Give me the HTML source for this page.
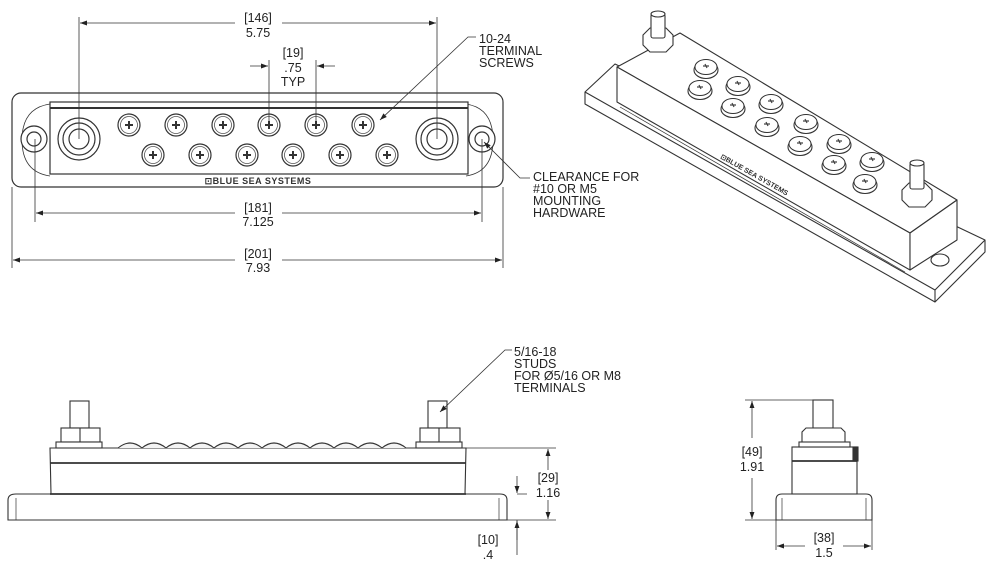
<!DOCTYPE html>
<html><head><meta charset="utf-8"><style>
html,body{margin:0;padding:0;background:#fff;}
svg{display:block;}
text{font-family:"Liberation Sans",Arial,sans-serif;font-size:12.5px;fill:#222;}
.c{text-anchor:middle;}
</style></head><body>
<svg width="1000" height="570" viewBox="0 0 1000 570" xmlns="http://www.w3.org/2000/svg">
<defs>
<marker id="a" viewBox="0 0 10 10" refX="10" refY="5" markerWidth="9" markerHeight="7" orient="auto-start-reverse" markerUnits="userSpaceOnUse"><path d="M0,1.5 L10,5 L0,8.5 Z" fill="#222"/></marker>
<g id="scr"><circle r="11" fill="#fff" stroke="#333" stroke-width="1.2"/><circle r="8.5" fill="none" stroke="#555" stroke-width="0.8"/><path d="M-4,0H4M0,-4V4" stroke="#333" stroke-width="2"/></g>
<g id="iscr"><ellipse cx="0" cy="3" rx="12" ry="8.5" fill="#fff" stroke="#333" stroke-width="1.1"/><ellipse rx="11" ry="7.5" fill="#fff" stroke="#333" stroke-width="1"/><path d="M-3,-1h6M-1,-3l2,4" stroke="#444" stroke-width="1.2"/></g>
</defs>
<g stroke="#333" fill="none" stroke-width="1.2">
<!-- TOP VIEW -->
<rect x="12" y="93" width="491" height="94" rx="9" fill="#fff"/>
<path d="M22,140 Q22,108 50,104 M22,140 Q22,172 50,176 M493,140 Q493,108 466,104 M493,140 Q493,172 466,176" stroke-width="0.8"/>
<circle cx="34" cy="139" r="13" fill="#fff"/><circle cx="34" cy="139" r="7"/>
<circle cx="482" cy="139" r="13" fill="#fff"/><circle cx="482" cy="139" r="7"/>
<rect x="50" y="102" width="418" height="72" fill="#fff"/>
<line x1="50" y1="108" x2="468" y2="108" stroke-width="2"/>
<circle cx="79" cy="139" r="21" fill="#fff"/><circle cx="79" cy="139" r="16"/><circle cx="79" cy="139" r="10"/>
<circle cx="437" cy="139" r="21" fill="#fff"/><circle cx="437" cy="139" r="16"/><circle cx="437" cy="139" r="10"/>
</g>
<g><use href="#scr" x="129" y="125"/><use href="#scr" x="176" y="125"/><use href="#scr" x="223" y="125"/><use href="#scr" x="269" y="125"/><use href="#scr" x="316" y="125"/><use href="#scr" x="363" y="125"/>
<use href="#scr" x="153" y="155"/><use href="#scr" x="200" y="155"/><use href="#scr" x="247" y="155"/><use href="#scr" x="293" y="155"/><use href="#scr" x="340" y="155"/><use href="#scr" x="387" y="155"/></g>
<text x="258" y="184" class="c" style="font-size:9px;font-weight:bold;letter-spacing:0.5px;fill:#333">⊡BLUE SEA SYSTEMS</text>
<!-- dims top -->
<g stroke="#333" stroke-width="0.8" fill="none">
<path d="M79,17V139M437,17V139M269,60V125M316,60V125M35,139V222M482,139V222M12,187V268M503,187V268"/>
<line x1="235" y1="23" x2="80" y2="23" marker-end="url(#a)"/><line x1="282" y1="23" x2="436" y2="23" marker-end="url(#a)"/>
<line x1="250" y1="66" x2="268" y2="66" marker-end="url(#a)"/><line x1="335" y1="66" x2="317" y2="66" marker-end="url(#a)"/>
<line x1="235" y1="213" x2="36" y2="213" marker-end="url(#a)"/><line x1="282" y1="213" x2="481" y2="213" marker-end="url(#a)"/>
<line x1="235" y1="260" x2="13" y2="260" marker-end="url(#a)"/><line x1="282" y1="260" x2="502" y2="260" marker-end="url(#a)"/>
<polyline points="476,37 468,37 380,120" marker-end="url(#a)"/>
<polyline points="530,178 520,178 484,142" marker-end="url(#a)"/>
</g>
<text x="258" y="22" class="c">[146]</text><text x="258" y="37" class="c">5.75</text>
<text x="293" y="57" class="c">[19]</text><text x="293" y="72" class="c">.75</text><text x="293" y="86" class="c">TYP</text>
<text x="258" y="212" class="c">[181]</text><text x="258" y="226" class="c">7.125</text>
<text x="258" y="258" class="c">[201]</text><text x="258" y="272" class="c">7.93</text>
<text x="479" y="43">10-24</text><text x="479" y="55">TERMINAL</text><text x="479" y="67">SCREWS</text>
<text x="533" y="181">CLEARANCE FOR</text><text x="533" y="193">#10 OR M5</text><text x="533" y="205">MOUNTING</text><text x="533" y="217">HARDWARE</text>
<!-- ISO VIEW -->
<g stroke="#333" stroke-width="1.1" fill="#fff" stroke-linejoin="round">
<polygon points="615,64 585,92 585,104 935,302 985,252 985,240"/>
<polyline points="585,92 935,290 985,240" fill="none"/>
<line x1="935" y1="290" x2="935" y2="302"/>
<polygon points="617,67 680,33 957,200 910,233"/>
<polygon points="617,67 910,233 910,270 617,102"/>
<polygon points="910,233 957,200 957,240 910,270"/>
<line x1="620" y1="107" x2="905" y2="272" stroke-width="0.7"/>
<ellipse cx="940" cy="260" rx="9" ry="6"/>
<!-- studs -->
<path d="M643,45 L643,35 L650,28 L666,28 L673,35 L673,45 L666,52 L650,52 Z"/>
<rect x="651" y="14" width="14" height="24" rx="2"/><ellipse cx="658" cy="14" rx="7" ry="3"/>
<path d="M902,200 L902,190 L909,183 L925,183 L932,190 L932,200 L925,207 L909,207 Z"/>
<rect x="910" y="163" width="14" height="26" rx="2"/><ellipse cx="917" cy="163" rx="7" ry="3"/>
</g>
<g><use href="#iscr" x="706" y="67"/><use href="#iscr" x="738" y="84"/><use href="#iscr" x="771" y="102"/><use href="#iscr" x="806" y="122"/><use href="#iscr" x="839" y="142"/><use href="#iscr" x="872" y="160"/>
<use href="#iscr" x="700" y="88"/><use href="#iscr" x="733" y="106"/><use href="#iscr" x="767" y="125"/><use href="#iscr" x="800" y="144"/><use href="#iscr" x="834" y="163"/><use href="#iscr" x="865" y="182"/></g>
<text transform="translate(720,158) rotate(29.5)" style="font-size:7px;font-weight:bold;fill:#333">⊡BLUE SEA SYSTEMS</text>
<!-- FRONT VIEW -->
<g stroke="#333" stroke-width="1.1" fill="#fff">
<path d="M8,520 V500 Q8,494 16,494 H500 Q507,494 507,500 V520 Z"/>
<line x1="16" y1="520" x2="16" y2="498" stroke-width="0.7"/><line x1="499" y1="520" x2="499" y2="498" stroke-width="0.7"/>
<path d="M51,494 L50,448 H466 L465,494"/>
<line x1="50" y1="463" x2="466" y2="463" stroke-width="1.8"/>
<line x1="50" y1="494" x2="466" y2="494" stroke-width="1.8"/>
<rect x="70" y="401" width="19" height="27"/><rect x="61" y="428" width="39" height="14"/><line x1="80" y1="428" x2="80" y2="448"/><rect x="56" y="442" width="46" height="6"/>
<rect x="428" y="401" width="19" height="27"/><rect x="420" y="428" width="40" height="14"/><line x1="439" y1="428" x2="439" y2="448"/><rect x="416" y="442" width="46" height="6"/>
<path d="M118,448 q12,-10 24,0 q12,-10 24,0 q12,-10 24,0 q12,-10 24,0 q12,-10 24,0 q12,-10 24,0 q12,-10 24,0 q12,-10 24,0 q12,-10 24,0 q12,-10 24,0 q12,-10 24,0 q12,-10 24,0" fill="#f4f4f4"/>
</g>
<g stroke="#333" stroke-width="0.8" fill="none">
<path d="M466,448H556M507,520H556M517,494h10M517,520V555"/>
<line x1="548" y1="470" x2="548" y2="449" marker-end="url(#a)"/><line x1="548" y1="500" x2="548" y2="519" marker-end="url(#a)"/>
<line x1="517" y1="476" x2="517" y2="493" marker-end="url(#a)"/><line x1="517" y1="540" x2="517" y2="521" marker-end="url(#a)"/>
<polyline points="512,350 505,350 440,412" marker-end="url(#a)"/>
</g>
<text x="548" y="482" class="c">[29]</text><text x="548" y="497" class="c">1.16</text>
<text x="488" y="544" class="c">[10]</text><text x="488" y="559" class="c">.4</text>
<text x="514" y="356">5/16-18</text><text x="514" y="368">STUDS</text><text x="514" y="380">FOR Ø5/16 OR M8</text><text x="514" y="392">TERMINALS</text>
<!-- SIDE VIEW -->
<g stroke="#333" stroke-width="1.1" fill="#fff">
<path d="M776,520 V500 Q776,494 782,494 H866 Q872,494 872,500 V520 Z"/>
<line x1="782" y1="520" x2="782" y2="498" stroke-width="0.7"/><line x1="866" y1="520" x2="866" y2="498" stroke-width="0.7"/>
<rect x="792" y="447" width="65" height="47"/>
<line x1="792" y1="461" x2="857" y2="461" stroke-width="1.8"/>
<rect x="853" y="447" width="5" height="14" fill="#333"/>
<rect x="813" y="400" width="20" height="28"/>
<path d="M802,442 V432 L806,428 H841 L845,432 V442 Z"/>
<rect x="799" y="442" width="51" height="5"/>
</g>
<g stroke="#333" stroke-width="0.8" fill="none">
<path d="M745,400H813M745,520H776M776,520V550M872,520V550"/>
<line x1="752" y1="438" x2="752" y2="401" marker-end="url(#a)"/><line x1="752" y1="478" x2="752" y2="519" marker-end="url(#a)"/>
<line x1="805" y1="546" x2="777" y2="546" marker-end="url(#a)"/><line x1="843" y1="546" x2="871" y2="546" marker-end="url(#a)"/>
</g>
<text x="752" y="456" class="c">[49]</text><text x="752" y="471" class="c">1.91</text>
<text x="824" y="542" class="c">[38]</text><text x="824" y="557" class="c">1.5</text>
</svg>
</body></html>
